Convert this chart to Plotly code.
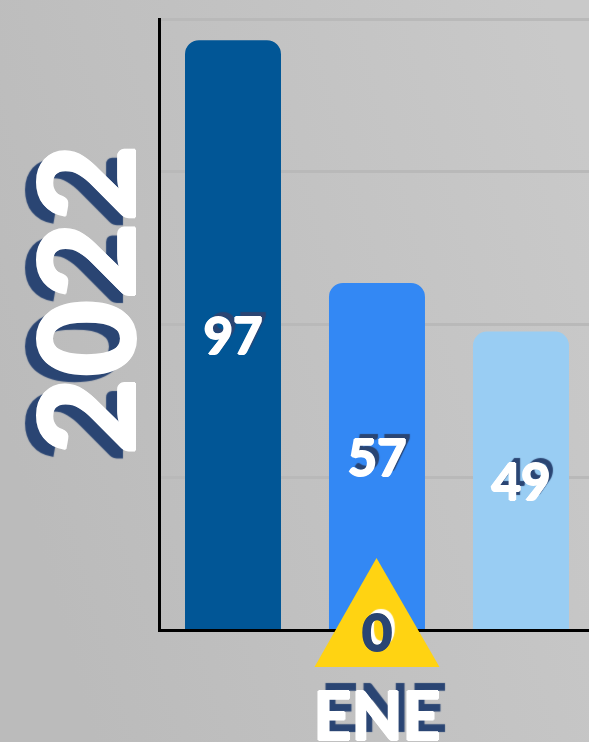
import base64
import plotly.graph_objects as go

months = ["ENE"]
series_names = ["2020", "2021", "2022"]
series_values = [[97], [57], [49]]
series_colors = ["#015696", "#3388F4", "#99CDF3"]
triangle_value = 0
year_label = "2022"
y_ticks = [0, 24.9, 50.1, 75.4, 100.4]

DARK = "#2A4573"
FONT = "Lato"


def heavy(shadow, col="white"):
    return (f"1px 0 0 {col}, -1px 0 0 {col}, 0 1px 0 {col}, 0 -1px 0 {col}, " + shadow)


svg = ('<svg xmlns="http://www.w3.org/2000/svg" width="589" height="742">'
       '<defs><linearGradient id="g" x1="0" y1="0.55" x2="1" y2="0.2">'
       '<stop offset="0" stop-color="#BBBBBB"/><stop offset="1" stop-color="#C9C9C9"/>'
       '</linearGradient></defs><rect width="589" height="742" fill="url(#g)"/></svg>')
bg = "data:image/svg+xml;base64," + base64.b64encode(svg.encode()).decode()

fig = go.Figure()
for name, vals, col in zip(series_names, series_values, series_colors):
    fig.add_trace(go.Bar(
        name=name, x=months, y=vals, marker=dict(color=col, line=dict(width=0)),
        text=vals, textposition="inside", insidetextanchor="middle",
        textangle=0, constraintext="none",
        insidetextfont=dict(family=FONT, size=51, color="white", weight=700,
                            shadow=heavy(f"5px -5px 1px {DARK}")),
        hoverinfo="skip",
    ))

L, T, R, B = 161, 18, 0, 113
PW, PH = 589 - L - R, 742 - T - B
fig.update_layout(
    width=589, height=742, showlegend=False,
    margin=dict(l=L, r=R, t=T, b=B),
    paper_bgcolor="#C3C3C3", plot_bgcolor="rgba(0,0,0,0)",
    barmode="group", bargap=0, bargroupgap=1 / 3, barcornerradius=14,
    images=[dict(source=bg, xref="paper", yref="paper", x=-L / PW, y=1 + T / PH,
                 sizex=589 / PW, sizey=742 / PH, sizing="stretch",
                 xanchor="left", yanchor="top", layer="below")],
    xaxis=dict(type="category", range=[-0.5, 0.4908], showgrid=False,
               showline=True, linecolor="black", linewidth=3, ticks="",
               tickfont=dict(family=FONT, size=66, color="white", weight=900,
                             shadow=heavy(f"7px -8px 1px {DARK}")),
               ticklabelstandoff=29, automargin=False),
    yaxis=dict(range=[0, 100.66], tickvals=y_ticks, showticklabels=False, ticks="",
               gridcolor="#B9B9B9", gridwidth=3, zeroline=False,
               showline=True, linecolor="black", linewidth=3, automargin=False),
    shapes=[dict(type="path", layer="above", xref="paper", yref="paper",
                 xsizemode="pixel", ysizemode="pixel",
                 xanchor=(376.5 - L) / PW, yanchor=0,
                 path="M -62 -38 L 63 -38 L 0 71 Z",
                 fillcolor="#FFD312", line=dict(width=0))],
    annotations=[
        dict(text=str(triangle_value), xref="x", yref="y", x="ENE", y=0, yshift=-2,
             showarrow=False, xanchor="center", yanchor="middle",
             font=dict(family=FONT, size=52, color=DARK, weight=700,
                       shadow=heavy("4px -5px 1px white", DARK))),
        dict(text=year_label, xref="paper", yref="paper", x=(83 - L) / PW,
             y=(629 - 300) / PH, textangle=-90, showarrow=False,
             xanchor="center", yanchor="middle",
             font=dict(family=FONT, size=134, color="white", weight=900,
                       shadow=heavy(f"-8px -12px 1px {DARK}"))),
    ],
)

fig.write_html("out.html", config={"displayModeBar": False},
               post_script="document.body.style.margin='0';document.body.style.overflow='hidden';")
